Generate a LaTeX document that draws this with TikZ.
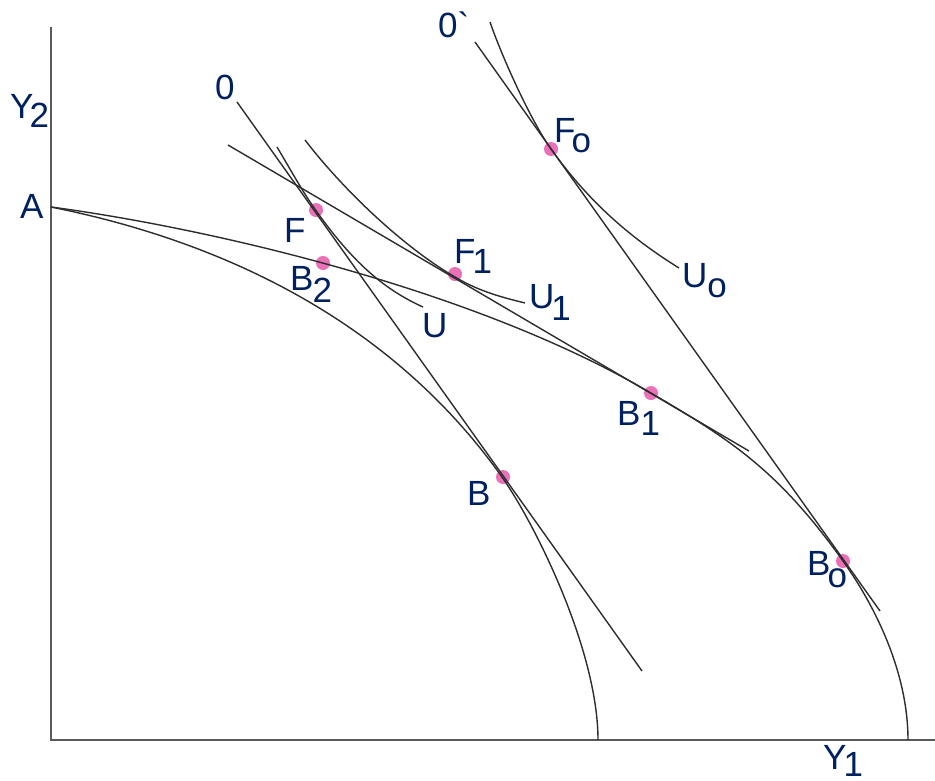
\documentclass[tikz,border=0pt]{standalone}
\usepackage{fontspec}
\setmainfont{Liberation Sans}[Ligatures=TeXOff]
\definecolor{navy}{RGB}{0,32,96}
\definecolor{dotpink}{RGB}{236,112,184}
\definecolor{inkgray}{RGB}{45,45,45}
\definecolor{axisgray}{RGB}{90,90,90}
\newcommand{\lsub}[3]{\kern#1\raisebox{-#2}{#3}}
\tikzset{
  lbl/.style={anchor=base west, inner sep=0pt, text=navy, font=\fontsize{35}{40}\selectfont},
  pdot/.style={circle, fill=dotpink, minimum size=14pt, inner sep=0pt},
  curve/.style={draw=inkgray, line width=1.4pt},
  axisline/.style={draw=axisgray, line width=1.8pt}
}
\begin{document}
\begin{tikzpicture}[x=1pt,y=-1pt]
\useasboundingbox (0,0) rectangle (935,780);
% key coordinates
\coordinate (ytop) at (51,27);
\coordinate (orig) at (51,740);
\coordinate (xend) at (935,740);
\coordinate (A) at (51,207);
\coordinate (Bpt) at (502,477);
\coordinate (E1) at (598,740);
\coordinate (B1pt) at (651,393);
\coordinate (Bopt) at (843,561);
\coordinate (E2) at (908,740);
\coordinate (Tu) at (317,212);
\coordinate (Tu1) at (455,277);
\coordinate (Tuo) at (551,149);
\coordinate (Us) at (277,147);
\coordinate (Ue) at (423,307);
\coordinate (U1s) at (305,140);
\coordinate (U1e) at (525,303);
\coordinate (Uos) at (490,22);
\coordinate (Uoe) at (679,268);
\coordinate (L0s) at (237,102);
\coordinate (L0e) at (642,671);
\coordinate (L1s) at (228,145);
\coordinate (L1e) at (749,451);
\coordinate (L2s) at (475,42);
\coordinate (L2e) at (880,611);
% dots
\node[pdot] (dF) at (316,210) {};
\node[pdot] (dB2) at (323,263) {};
\node[pdot] (dF1) at (455,274) {};
\node[pdot] (dFo) at (551,149) {};
\node[pdot] (dB1) at (651,393) {};
\node[pdot] (dB) at (503,477) {};
\node[pdot] (dBo) at (843,561) {};
% axes
\draw[axisline] (ytop) -- (orig) -- (xend);
% production possibility frontiers
\draw[curve] (A) .. controls (201,237) and (382,308) .. (Bpt)
  .. controls (535,524) and (598,650) .. (E1);
\draw[curve] (A) .. controls (201,227) and (471,287) .. (B1pt)
  .. controls (731,440) and (778,470) .. (Bopt)
  .. controls (873,603) and (908,670) .. (E2);
% indifference curves
\draw[curve] (Us) .. controls (292,172) and (302,191) .. (Tu)
  .. controls (352,261) and (383,289) .. (Ue);
\draw[curve] (U1s) .. controls (345,192) and (405,248) .. (Tu1)
  .. controls (480,292) and (505,298) .. (U1e);
\draw[curve] (Uos) .. controls (502,57) and (531,121) .. (Tuo)
  .. controls (591,205) and (634,240) .. (Uoe);
% price lines
\draw[curve] (L0s) -- (L0e);
\draw[curve] (L1s) -- (L1e);
\draw[curve] (L2s) -- (L2e);
% labels
\node[lbl] (lY2) at (10,118) {Y\lsub{-4pt}{9pt}{2}};
\node[lbl] (lA) at (20,218) {A};
\node[lbl] (l0) at (215,99) {0};
\node[lbl] (l0p) at (438,37) {0\symbol{96}};
\node[lbl] (lF) at (284,242) {F};
\node[lbl] (lB2) at (290,290) {B\lsub{-1pt}{12pt}{2}};
\node[lbl] (lF1) at (454,263) {F\lsub{-3pt}{10pt}{1}};
\node[lbl] (lU) at (422,337) {U};
\node[lbl] (lU1) at (529,308) {U\lsub{-3pt}{12pt}{1}};
\node[lbl] (lFo) at (554,142) {F\lsub{-4pt}{10pt}{o}};
\node[lbl] (lUo) at (682,287) {U\lsub{0pt}{10pt}{o}};
\node[lbl] (lB1) at (617,425) {B\lsub{0pt}{10pt}{1}};
\node[lbl] (lBo) at (807,575) {B\lsub{-3pt}{12pt}{o}};
\node[lbl] (lB) at (467,505) {B};
\node[lbl] (lY1) at (823,769) {Y\lsub{-3pt}{7pt}{1}};
\end{tikzpicture}
\end{document}
